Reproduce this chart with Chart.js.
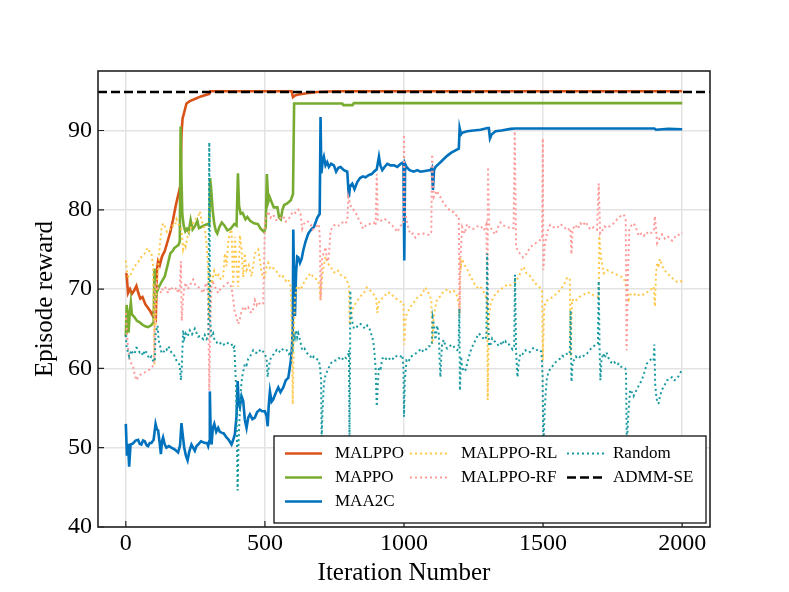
<!DOCTYPE html>
<html>
<head>
<meta charset="utf-8">
<title>Episode reward</title>
<script src="https://cdn.jsdelivr.net/npm/chart.js@4.4.1/dist/chart.umd.min.js"></script>
<style>
  html, body { margin: 0; padding: 0; background: #fff; }
  #wrap { width: 789px; height: 592px; }
</style>
</head>
<body>
<div id="wrap"><canvas id="reward" width="789" height="592"></canvas></div>
<script>
// [iteration, reward]
var malppo = [[0,72],[3,71.8],[8,69.5],[15,70],[22,69.4],[30,69.8],[38,70.4],[45,69.5],[52,68.8],[60,69],[70,68.1],[80,67.6],[88,67.2],[96,66.7],[102,67.3],[108,66.6],[112,72.5],[116,73.5],[122,73],[130,74.1],[140,74.8],[150,76],[160,77.2],[170,78.8],[180,80.6],[190,82.1],[196,83],[200,89.5],[204,91.5],[210,92.3],[218,93.4],[230,93.7],[250,94],[270,94.3],[290,94.5],[300,94.6],[304,94.95],[400,94.95],[500,94.95],[596,94.95],[601,94.2],[608,94.4],[616,94.5],[650,94.7],[688,94.85],[750,94.95],[1000,94.95],[1500,94.95],[2000,94.95]];

var mappo = [[0,64],[3,68],[7,66.5],[10,64.5],[14,67],[18,68.3],[22,66.8],[30,66.5],[40,66],[50,65.8],[60,65.5],[70,65.3],[80,65.2],[90,65.4],[100,65.8],[103,72.6],[106,68.5],[110,69.5],[118,70.2],[130,71],[140,71.6],[150,73],[160,74.5],[168,74.8],[175,75.2],[183,75.4],[190,75.6],[194,76],[197,90.5],[200,84],[203,79.5],[208,78],[214,77.3],[220,77.6],[226,77.2],[233,78.7],[240,77.5],[248,77.9],[257,78.6],[263,77.7],[269,77.8],[280,78],[293,78.2],[300,78],[303,84],[307,82.5],[312,80],[318,78.2],[324,77.3],[329,77],[336,77.8],[345,78.4],[355,78],[365,77.4],[377,77.6],[390,78.2],[398,78],[403,84.6],[407,80.5],[413,79.5],[420,79.6],[430,78.8],[437,79.1],[447,78.6],[461,78.3],[475,78.2],[485,77.6],[497,77.2],[503,77.8],[507,84.5],[512,81],[517,81.6],[525,80.9],[532,80.3],[545,80.3],[551,79],[557,78.8],[563,80],[569,80.6],[580,80.8],[593,81.2],[601,82],[605,93.4],[700,93.4],[778,93.4],[782,93.2],[815,93.2],[820,93.45],[1000,93.45],[1500,93.45],[2000,93.45]];

var maa2c = [[0,53],[4,49],[8,50.5],[12,47.6],[17,50.4],[25,50.5],[35,50.9],[44,51],[50,50.5],[56,50.4],[62,50.9],[68,50.8],[75,50.3],[80,50.2],[86,50.6],[92,50.6],[100,51],[107,53],[112,52.3],[116,52.2],[122,50.5],[126,49.2],[130,50.8],[134,51.3],[140,50.4],[146,50],[155,50.2],[164,50],[175,49.8],[188,49.4],[195,50.3],[200,53.1],[205,51.5],[210,50],[216,49],[222,48.4],[228,49.5],[236,50.4],[242,50],[248,49.6],[254,50.2],[260,50.4],[270,50.8],[284,50.6],[292,50.6],[296,50.2],[300,50.8],[302,57.1],[305,52],[308,50.4],[313,52.5],[318,53],[325,52],[332,52.5],[338,52],[344,51.9],[352,51.8],[362,51.3],[370,51],[380,50.4],[386,51],[392,51.7],[398,54],[402,58.4],[406,55.5],[410,55.1],[416,56.5],[422,55.9],[428,53.5],[434,52.5],[440,53.8],[446,54.2],[455,53.6],[464,53.8],[472,54.5],[482,54.8],[490,54.6],[500,54.6],[506,54],[510,52.7],[514,55.5],[518,57.1],[524,55.8],[530,56.1],[540,57],[548,57.6],[556,57],[566,57.6],[575,58.5],[584,58.8],[590,60.2],[593,60.9],[597,62.5],[600,65],[602,77.5],[605,71],[608,66.6],[612,72],[616,74.1],[620,74],[626,73.3],[632,73.8],[638,74.9],[646,76],[656,77],[668,77.6],[676,77.8],[688,79],[697,79.5],[700,91.7],[703,84.6],[708,86.2],[712,86.7],[718,85.6],[724,86],[730,85.4],[738,85.8],[748,85.6],[756,84.8],[764,85.3],[772,85.4],[784,85],[796,84.8],[802,81.6],[806,83],[814,83.3],[822,82.6],[832,83.5],[842,84],[852,84.2],[862,84.1],[874,84.4],[884,84.5],[892,84.8],[902,85.1],[910,86.7],[915,85.6],[922,85],[930,85.4],[940,85.8],[952,85.6],[964,85.6],[976,85.4],[988,85.8],[998,86],[1001,73.6],[1004,85.8],[1009,85.4],[1020,85],[1035,84.8],[1048,85],[1059,84.8],[1075,84.9],[1095,85],[1100,85.3],[1104,82.5],[1108,85],[1113,85.4],[1122,85.7],[1131,86],[1143,86.4],[1155,86.8],[1170,87.2],[1185,87.5],[1197,87.7],[1200,90.3],[1205,89.5],[1209,89.7],[1227,89.9],[1250,90],[1275,90.1],[1300,90.3],[1305,90.3],[1309,89],[1315,89.5],[1329,89.9],[1350,90],[1383,90.2],[1400,90.25],[1600,90.25],[1800,90.25],[1900,90.25],[1906,90.1],[1950,90.2],[2000,90.15]];

var malppoRL = [[0,73.6],[5,72],[10,71.5],[14,71.6],[22,72.2],[32,72.9],[40,73.2],[50,73.7],[58,74.2],[68,74.5],[75,75],[80,75.2],[86,74.6],[92,74.5],[98,72.9],[101,66],[103,60.5],[106,65],[110,70],[116,72.4],[122,75.5],[128,77.5],[134,78.3],[140,77.9],[148,77.2],[158,77.5],[167,78],[176,77.9],[182,78.8],[188,78.3],[195,77.9],[200,77.5],[206,75],[212,75.8],[215,75.4],[224,77],[232,77.6],[242,78.3],[250,78.8],[260,79.2],[266,79.8],[272,78.7],[278,78],[284,77.5],[290,75.8],[296,72.4],[300,66.2],[304,71.6],[310,71],[318,72.3],[326,71.5],[334,71.8],[342,71.2],[350,71.6],[356,74.5],[362,72.9],[368,76],[374,77.1],[380,77.5],[386,70.3],[392,76.6],[398,73],[404,70.3],[410,76.8],[416,75],[422,71.5],[428,74.5],[434,72.4],[442,73],[452,71.6],[458,73],[464,74.5],[470,74.8],[476,75],[482,73.6],[488,72],[494,71.4],[500,71.6],[506,72.8],[512,73.3],[518,72.7],[524,72.9],[536,72.4],[548,72],[556,71.4],[566,71.6],[576,71],[584,71.2],[593,70.3],[597,64],[600,55.5],[603,63],[608,69],[616,70.4],[628,69.9],[640,70.8],[652,71.5],[664,72],[676,71.4],[688,71.2],[696,70.5],[700,68.6],[703,70.2],[706,71.6],[712,73],[718,74.1],[726,73.2],[736,72.9],[745,72.2],[754,72],[763,72.3],[772,71.8],[781,71.6],[790,71.4],[798,70.8],[802,70.4],[805,65.5],[810,66.8],[820,67.9],[830,68.4],[844,69.1],[856,69.5],[866,70.2],[874,70],[884,69.6],[892,69.3],[900,68.8],[904,67],[908,68.2],[916,68.7],[928,69],[940,69.6],[952,69.5],[964,69],[976,68.7],[988,68.4],[998,68.3],[1001,63],[1006,66.5],[1012,67],[1024,67.8],[1035,68.3],[1047,68.9],[1059,69.1],[1068,69.6],[1077,70.2],[1088,69.5],[1098,68.7],[1102,63.1],[1107,66.6],[1113,67.8],[1119,68.7],[1128,69],[1137,69.5],[1146,69.6],[1155,70],[1167,69.6],[1179,69.8],[1190,69.2],[1197,68],[1199,66.8],[1201,74.1],[1205,73],[1209,73.8],[1218,73],[1227,72.5],[1236,71.8],[1245,71.2],[1254,70.6],[1263,70.2],[1272,70.4],[1281,70],[1290,69.4],[1299,68.7],[1301,56],[1305,66.6],[1312,68.2],[1323,69.1],[1335,69.6],[1347,70],[1359,70.2],[1371,70.6],[1385,70.5],[1400,70.9],[1410,71.4],[1418,72],[1424,72.6],[1430,72.8],[1440,72],[1447,71.9],[1454,71.6],[1466,71],[1478,70.5],[1488,70.2],[1496,69.9],[1499,61],[1504,67.8],[1512,68.5],[1520,68.7],[1530,68.9],[1538,69.1],[1550,69.5],[1562,69.9],[1574,70.5],[1586,71.4],[1596,71.4],[1599,61.5],[1604,68.7],[1612,68.4],[1622,68.7],[1634,69.1],[1646,69.3],[1658,69.6],[1670,69.5],[1682,69.2],[1694,69.1],[1700,69],[1702,76.7],[1708,74],[1718,72],[1730,72.4],[1742,72.2],[1754,72],[1766,71.8],[1778,71.6],[1790,71.4],[1798,70.4],[1802,69.9],[1808,68.7],[1814,69.3],[1820,69.5],[1830,69.3],[1838,69.1],[1850,69.4],[1862,69.3],[1874,69.6],[1886,69.9],[1898,70.3],[1902,67.8],[1906,72],[1910,73.3],[1915,73],[1920,73.8],[1927,73],[1934,72.5],[1946,72],[1958,71.6],[1970,71.2],[1982,70.9],[1994,71],[2000,70.9]];

var malppoRF = [[0,67],[3,65],[6,63.5],[10,62],[14,61],[20,60.6],[26,60.2],[32,59.2],[38,58.5],[44,58.9],[50,59.1],[58,59.4],[68,59.5],[78,59.7],[92,60],[102,60.6],[105,70.5],[110,70.8],[116,70],[122,69.8],[128,69.5],[134,70.2],[140,70.3],[146,70],[152,69.5],[160,70.3],[168,70],[176,69.9],[182,70.2],[188,69.5],[194,70],[198,73.5],[201,66],[205,68.5],[210,70.2],[215,70.8],[222,70],[230,70.3],[236,71],[242,71.2],[250,70.5],[260,70.3],[270,69.9],[278,69.5],[284,70.3],[290,70.8],[296,69.5],[300,57.2],[304,66],[308,70.5],[314,70.8],[322,70.2],[332,69.5],[340,70],[350,70.3],[358,70.6],[368,70.8],[374,70.5],[380,70.3],[386,68.7],[392,67],[398,66.5],[404,65.6],[410,66.3],[416,67.2],[424,67.8],[432,67.4],[440,67.7],[446,67.2],[452,67],[458,67.5],[464,68.6],[470,68],[476,68.4],[484,68],[494,68.2],[500,78.7],[506,79.2],[512,79.8],[520,79],[530,79.4],[540,78.7],[548,78.7],[556,79],[566,79.2],[574,78.5],[584,78.7],[592,79.3],[602,79.8],[610,79.6],[620,80],[628,79.5],[634,77.6],[640,78.2],[652,78.6],[664,78.2],[672,77.5],[682,77.8],[694,78.2],[698,76.1],[700,68.6],[703,71.5],[706,74],[712,74.6],[718,75.3],[724,73.5],[730,74],[736,77.4],[745,77.9],[754,78.2],[766,78],[778,78.4],[788,78.2],[796,78.6],[800,81.6],[806,80.8],[810,80.3],[818,80],[826,79.7],[834,79],[844,78.4],[850,77.8],[856,77.6],[862,78],[868,78],[880,78.3],[892,78.4],[898,78],[902,84.5],[906,78.6],[916,78.6],[928,78.9],[940,78.6],[952,78.2],[964,77.8],[976,77.2],[988,78],[998,78.2],[1000,89.5],[1003,80],[1012,78.2],[1018,77.4],[1024,76.9],[1032,77],[1041,76.5],[1050,76.9],[1059,76.9],[1070,77],[1083,76.9],[1092,76.8],[1098,77.2],[1101,87],[1107,81.6],[1113,82],[1119,82.4],[1125,81.8],[1131,81.6],[1143,80.8],[1155,80.3],[1167,79.8],[1179,79.7],[1190,79.2],[1197,79.1],[1200,67],[1203,74],[1209,77.8],[1218,77],[1227,78.2],[1239,77.6],[1251,77.6],[1263,77.9],[1275,78],[1287,77.4],[1296,78.2],[1300,67.5],[1302,85.4],[1306,78],[1311,77.8],[1320,77.2],[1329,76.9],[1338,77.8],[1347,78.4],[1359,78],[1371,77.9],[1383,77.6],[1394,77.7],[1398,89.9],[1403,75.3],[1410,74.8],[1418,74.4],[1428,74],[1436,74.2],[1446,74.8],[1454,75.3],[1466,75.6],[1478,75.9],[1490,76.2],[1496,76.3],[1499,89],[1501,72.4],[1506,75.5],[1514,77],[1520,77.8],[1526,78.1],[1538,77.8],[1550,77.7],[1562,78.2],[1574,77.9],[1586,77.4],[1598,77.7],[1602,74.4],[1606,77.5],[1616,78.1],[1625,77.6],[1634,78.3],[1643,78],[1652,78.5],[1661,78],[1670,77.5],[1682,77.8],[1694,77.5],[1700,83.3],[1705,77],[1712,77.3],[1721,77.9],[1730,77.7],[1742,78],[1754,78.3],[1766,78.8],[1778,79.2],[1790,79.4],[1797,78.8],[1800,62.3],[1805,72],[1810,77.5],[1814,77.9],[1826,78.3],[1835,77.6],[1844,76.7],[1853,77],[1862,76.7],[1871,77.2],[1880,76.9],[1890,77.1],[1898,77.3],[1902,79.2],[1906,77.5],[1910,75.8],[1919,76.4],[1928,76.9],[1937,76.4],[1946,76.7],[1955,76.4],[1964,76.1],[1973,76.5],[1982,76.9],[1991,76.8],[2000,77.1]];

var random = [[0,64.2],[3,62.5],[6,62.3],[12,61.5],[20,62.3],[26,61.8],[32,61.9],[38,62.6],[44,62.5],[50,62],[56,62.1],[62,61.6],[68,62.3],[76,61.9],[84,61.2],[92,61.5],[100,60.8],[104,61],[107,64.4],[114,65.4],[118,63.5],[122,63.1],[128,62],[134,61.9],[140,62.4],[146,62.3],[152,62.8],[158,62.5],[164,62],[170,61.9],[176,61.5],[182,61],[188,60.7],[194,60.4],[198,58.5],[201,60],[206,64.8],[210,63.8],[215,64.4],[222,64],[230,64.8],[238,64.3],[248,65],[254,64.5],[260,64],[268,64.1],[278,63.7],[284,64.2],[290,63.7],[297,64],[300,88.5],[303,66],[308,64],[314,64.4],[320,63.4],[326,63.3],[335,63],[344,63.3],[352,63],[362,63.3],[370,63.1],[380,63.1],[385,62.5],[390,62.7],[396,58],[399,52],[402,44.6],[405,50.5],[410,54.7],[414,57.5],[418,58.9],[422,59.6],[428,60.6],[434,60.4],[440,61.2],[448,61.6],[458,62.3],[466,62],[476,61.9],[484,62.4],[494,62.1],[500,61.8],[506,61.2],[510,58.9],[514,60.2],[518,61],[524,61.5],[532,61.8],[542,62.3],[550,62],[560,62.5],[570,62.2],[578,62.3],[586,61.8],[596,62.1],[600,62.2],[604,64.4],[608,63.9],[612,64.8],[616,63.9],[620,64.4],[626,63.6],[634,62.3],[642,62.5],[652,61.9],[660,61.8],[668,61.2],[676,61.5],[686,61.2],[694,61],[698,60.2],[702,58.5],[704,51],[707,54.5],[712,58],[718,59.2],[726,59.8],[736,60.6],[746,61],[756,61],[766,61.3],[776,61],[784,61.5],[792,61.3],[800,61.8],[802,62.3],[804,51],[806,60],[807,69.8],[810,66.7],[815,65.8],[820,65],[830,65.2],[838,65.6],[844,65.6],[852,65.3],[860,65],[868,65.4],[876,65],[880,64.5],[886,64],[892,62.8],[898,60],[902,55.2],[906,58],[910,60.2],[916,60],[922,61.2],[928,61.5],[936,61.2],[944,61.4],[952,61],[960,61.2],[968,61.6],[976,61.5],[985,61.4],[994,61.7],[998,60],[1000,53.9],[1003,58.5],[1009,61],[1016,60.8],[1024,61.5],[1032,61.6],[1040,61.8],[1048,62.1],[1056,62.3],[1064,62],[1072,62.5],[1080,62.4],[1088,62.8],[1096,62.8],[1100,63.2],[1103,66.4],[1108,65.4],[1113,63.6],[1119,65.4],[1125,64.4],[1128,61],[1131,58.9],[1134,61.5],[1137,63.1],[1143,63.6],[1149,62.8],[1155,62.5],[1164,62.8],[1173,63],[1182,62.6],[1191,62.3],[1196,62.5],[1199,67.5],[1201,57.2],[1205,61.5],[1209,60.2],[1215,59.6],[1221,59.8],[1227,60.6],[1233,61.4],[1242,62.5],[1251,63.1],[1260,63.8],[1269,64.4],[1275,64.2],[1282,63.9],[1290,63.6],[1296,64],[1299,74.5],[1302,66],[1306,62.8],[1311,63],[1317,63.8],[1323,63.6],[1329,63.2],[1335,63.1],[1341,62.8],[1347,63],[1353,63.5],[1359,63.1],[1365,63.4],[1371,63],[1378,63],[1383,62.8],[1390,62.4],[1396,62.8],[1399,71.8],[1403,62],[1408,58.9],[1412,60.5],[1418,61.9],[1426,61.8],[1436,62.3],[1445,62],[1454,62.1],[1462,62.5],[1470,62.6],[1478,62.3],[1486,62.4],[1494,62.1],[1498,59],[1501,50],[1506,55],[1510,57.2],[1514,58.9],[1520,59.5],[1526,60],[1532,60.2],[1541,60.6],[1550,61],[1560,61.2],[1568,61.6],[1574,61.5],[1582,61.7],[1590,62],[1596,61.9],[1599,67.3],[1602,58.3],[1606,60.8],[1610,61],[1618,61.5],[1626,61.2],[1634,61.5],[1642,61.4],[1650,61.8],[1658,61.9],[1666,62.2],[1674,62.6],[1682,62.8],[1690,63],[1697,63.1],[1700,71],[1703,62.5],[1706,58.5],[1710,61],[1716,61.9],[1722,61.3],[1728,62],[1734,61.4],[1740,61],[1748,60.6],[1756,60.8],[1764,60.4],[1772,60.6],[1780,60.2],[1788,60.2],[1795,60],[1798,59.8],[1801,50],[1806,54],[1813,57.3],[1819,57],[1825,56.5],[1831,57],[1837,57.3],[1846,58],[1855,58.5],[1864,59.5],[1873,60.6],[1882,61],[1891,61.2],[1897,61],[1900,63],[1903,58],[1907,56.5],[1911,55.6],[1915,55.6],[1921,56.6],[1927,57.3],[1936,57.8],[1945,58.5],[1954,58.6],[1963,58.9],[1972,58.5],[1981,58.7],[1990,59.2],[1999,59.8]];

var admmSE = [[-100,94.85],[2100,94.85]];

var xTicks = [0, 500, 1000, 1500, 2000];
var yTicks = [40, 50, 60, 70, 80, 90];

var serif = "'Liberation Serif', 'Times New Roman', serif";

function pts(arr) {
  return arr.map(function (p) { return {x: p[0], y: p[1]}; });
}

function solid(label, arr, color) {
  return {label: label, data: pts(arr), borderColor: color, borderWidth: 2.6, pointRadius: 0, tension: 0};
}
function dotted(label, arr, color) {
  return {label: label, data: pts(arr), borderColor: color, borderWidth: 2, borderDash: [2, 3], pointRadius: 0, tension: 0};
}

var datasets = [
  solid('MALPPO', malppo, '#d95319'),
  solid('MAPPO', mappo, '#77ac30'),
  solid('MAA2C', maa2c, '#0072bd'),
  dotted('MALPPO-RL', malppoRL, '#ffc84a'),
  dotted('MALPPO-RF', malppoRF, '#ff9a9a'),
  dotted('Random', random, '#1a9aa0'),
  {label: 'ADMM-SE', data: pts(admmSE), borderColor: '#000', borderWidth: 2.4, borderDash: [9, 4], pointRadius: 0}
];
// matplotlib order: later series on top
datasets.forEach(function (d, i) { d.order = datasets.length - i; });

// legend slot per dataset: [column, row]
var keySlots = [[0, 0], [0, 1], [0, 2], [1, 0], [1, 1], [2, 0], [2, 1]];

// frame, inward ticks and the three-column legend
var frameAndKey = {
  id: 'frameAndKey',
  afterDatasetsDraw: function (chart) {
    var ctx = chart.ctx, a = chart.chartArea, sx = chart.scales.x, sy = chart.scales.y;
    ctx.save();
    ctx.strokeStyle = '#222';
    ctx.lineWidth = 1.2;
    ctx.beginPath();
    xTicks.forEach(function (v) {
      var px = sx.getPixelForValue(v);
      ctx.moveTo(px, a.bottom); ctx.lineTo(px, a.bottom - 6);
    });
    yTicks.forEach(function (v) {
      var py = sy.getPixelForValue(v);
      ctx.moveTo(a.left, py); ctx.lineTo(a.left + 6, py);
    });
    ctx.stroke();
    ctx.lineWidth = 1.6;
    ctx.strokeRect(a.left, a.top, a.right - a.left, a.bottom - a.top);

    // legend box
    var bx = a.left + 176, by = a.bottom - 91, bw = a.right - 4 - bx, bh = 87;
    ctx.fillStyle = '#fff';
    ctx.fillRect(bx, by, bw, bh);
    ctx.lineWidth = 1.3;
    ctx.strokeStyle = '#111';
    ctx.strokeRect(bx, by, bw, bh);

    var cols = [{lx: 11, tx: 61}, {lx: 136, tx: 187}, {lx: 293, tx: 339}];
    ctx.font = '17px ' + serif;
    ctx.textBaseline = 'middle';
    ctx.textAlign = 'left';
    chart.data.datasets.forEach(function (d, i) {
      var c = cols[keySlots[i][0]], row = keySlots[i][1];
      var y = by + 17.5 + row * 24;
      ctx.beginPath();
      ctx.setLineDash(d.borderDash || []);
      ctx.strokeStyle = d.borderColor;
      ctx.lineWidth = d.borderWidth;
      ctx.moveTo(bx + c.lx, y);
      ctx.lineTo(bx + c.lx + 37, y);
      ctx.stroke();
      ctx.setLineDash([]);
      ctx.fillStyle = '#000';
      ctx.fillText(d.label, bx + c.tx, y);
    });
    ctx.restore();
  }
};

new Chart(document.getElementById('reward').getContext('2d'), {
  type: 'line',
  data: {datasets: datasets},
  options: {
    responsive: false,
    animation: false,
    layout: {padding: {left: 0, right: 79, top: 71, bottom: 0}},
    plugins: {legend: {display: false}, tooltip: {enabled: false}},
    scales: {
      x: {
        type: 'linear',
        min: -100,
        max: 2100,
        afterBuildTicks: function (s) { s.ticks = xTicks.map(function (v) { return {value: v}; }); },
        afterFit: function (s) { s.height = 65; },
        grid: {color: '#e3e3e3', lineWidth: 1.5, drawTicks: false},
        border: {display: false},
        ticks: {color: '#000', padding: 2, maxRotation: 0, autoSkip: false,
                font: {family: serif, size: 24},
                callback: function (v) { return String(v); }},
        title: {display: true, text: 'Iteration Number', color: '#000', font: {family: serif, size: 25}, padding: {top: 0, bottom: 4}}
      },
      y: {
        type: 'linear',
        min: 40,
        max: 97.5,
        afterBuildTicks: function (s) { s.ticks = yTicks.map(function (v) { return {value: v}; }); },
        afterFit: function (s) { s.width = 98; },
        grid: {color: '#e3e3e3', lineWidth: 1.5, drawTicks: false},
        border: {display: false},
        ticks: {color: '#000', padding: 6, font: {family: serif, size: 24},
                callback: function (v) { return String(v); }},
        title: {display: true, text: 'Episode reward', color: '#000', font: {family: serif, size: 25}, padding: {top: 30, bottom: 0}}
      }
    }
  },
  plugins: [frameAndKey]
});
</script>
</body>
</html>
